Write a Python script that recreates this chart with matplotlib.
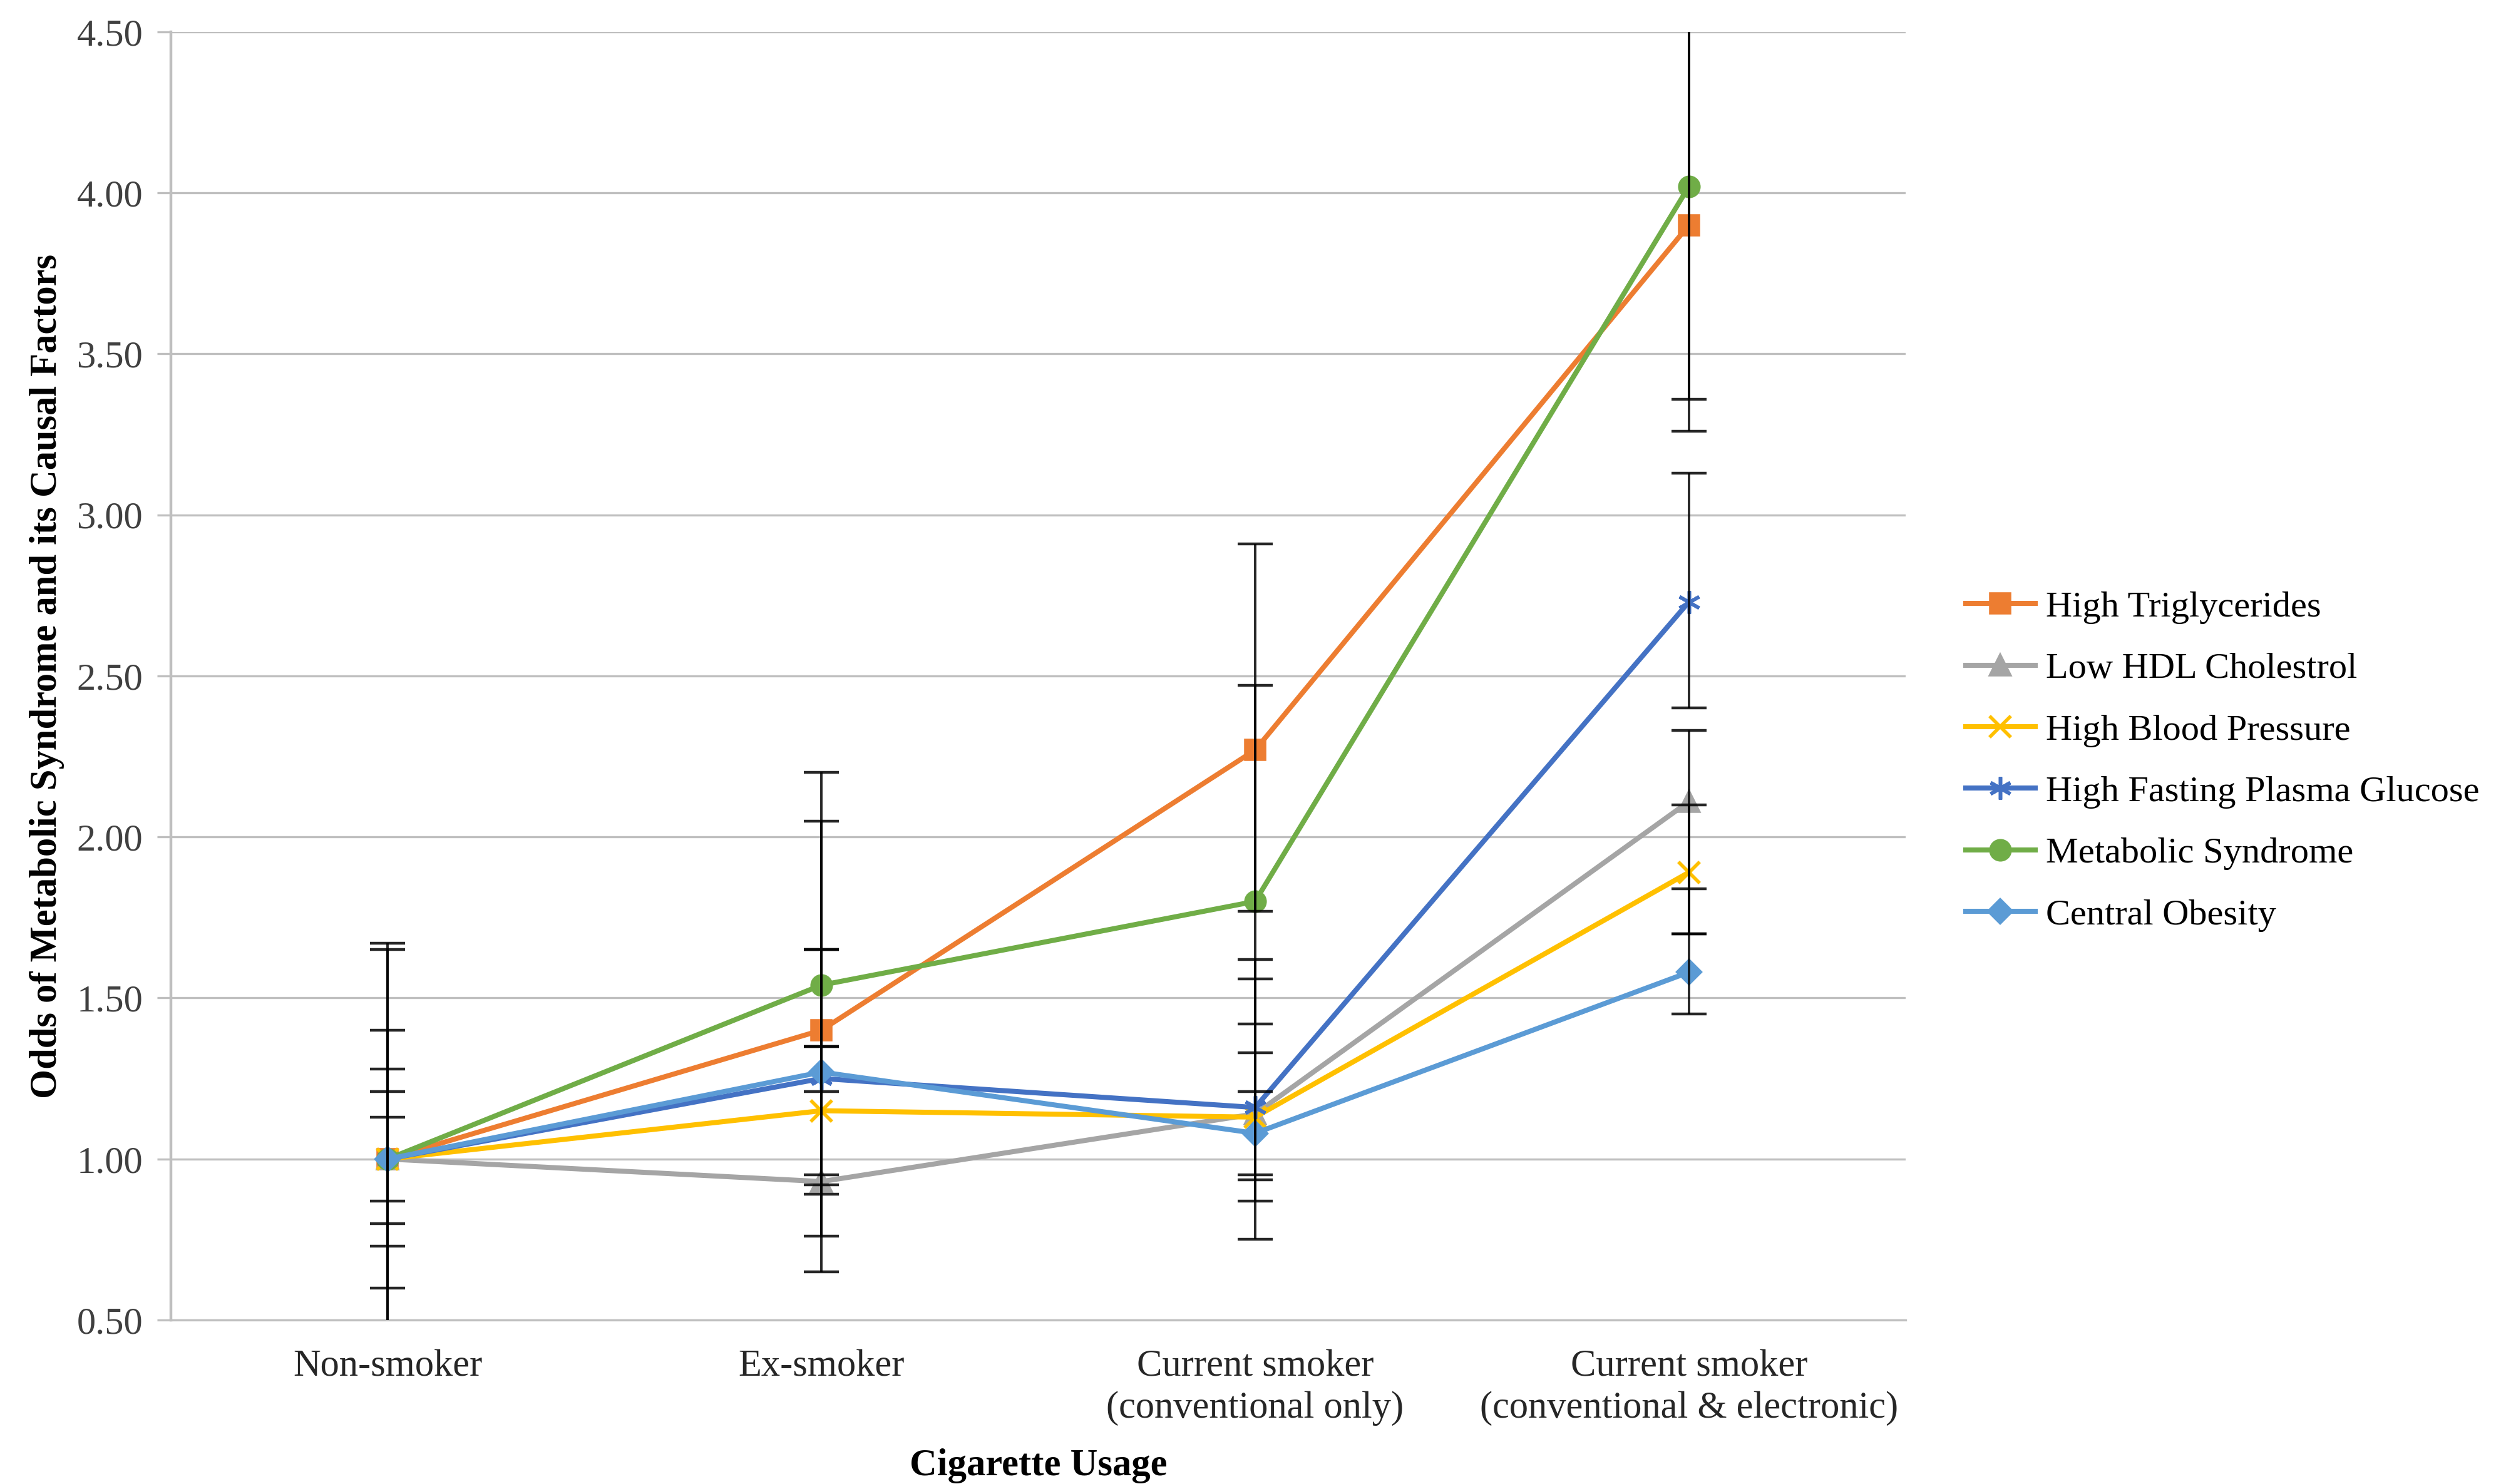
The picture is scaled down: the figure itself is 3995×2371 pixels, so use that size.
import matplotlib
matplotlib.use("Agg")
import matplotlib.pyplot as plt

# ── data ──────────────────────────────────────────────────────────────────────
categories = ["Non-smoker", "Ex-smoker",
              "Current smoker\n(conventional only)",
              "Current smoker\n(conventional & electronic)"]

series_names = ["High Triglycerides", "Low HDL Cholestrol", "High Blood Pressure",
                "High Fasting Plasma Glucose", "Metabolic Syndrome", "Central Obesity"]

trig = [1.00, 1.40, 2.27, 3.90]
hdl  = [1.00, 0.93, 1.14, 2.11]
bp   = [1.00, 1.15, 1.13, 1.89]
hfpg = [1.00, 1.25, 1.16, 2.73]
mets = [1.00, 1.54, 1.80, 4.02]
co   = [1.00, 1.27, 1.08, 1.58]

# confidence intervals
trig_lo = [0.40, 0.89, 1.77, 3.26]; trig_hi = [1.67, 2.20, 2.91, 4.65]
hdl_lo  = [0.60, 0.65, 0.75, 1.70]; hdl_hi  = [1.40, 1.35, 1.62, 2.33]
bp_lo   = [0.87, 0.76, 0.935, 1.70]; bp_hi  = [1.13, 1.35, 1.42, 2.10]
hfpg_lo = [0.73, 0.92, 0.87, 2.40]; hfpg_hi = [1.28, 1.65, 1.56, 3.13]
mets_lo = [0.45, 1.21, 1.33, 3.36]; mets_hi = [1.65, 2.05, 2.47, 4.80]
co_lo   = [0.80, 0.95, 0.95, 1.45]; co_hi   = [1.21, 1.65, 1.21, 1.84]

y_ticks = [0.5, 1.0, 1.5, 2.0, 2.5, 3.0, 3.5, 4.0, 4.5]

# ── styling ──────────────────────────────────────────────────────────────────
plt.rcParams['font.family'] = ['Liberation Serif', 'DejaVu Serif']
FS = 21.8
colors  = ['#ED7D31', '#A5A5A5', '#FFC000', '#4472C4', '#70AD47', '#5B9BD5']
markers = ['s', '^', 'x', (6, 2, 0), 'o', 'D']
msizes  = [11, 11, 12, 13, 11, 9]

values = [trig, hdl, bp, hfpg, mets, co]
lows   = [trig_lo, hdl_lo, bp_lo, hfpg_lo, mets_lo, co_lo]
highs  = [trig_hi, hdl_hi, bp_hi, hfpg_hi, mets_hi, co_hi]

fig = plt.figure(figsize=(19.975, 11.855), dpi=200)
ax = fig.add_axes([0.0683, 0.1105, 0.762 - 0.0683, 0.9785 - 0.1105])

x = [i + 0.5 for i in range(len(categories))]
handles = []
for name, vals, c, m, ms in zip(series_names, values, colors, markers, msizes):
    h, = ax.plot(x, vals, color=c, lw=2.9, marker=m, ms=ms, mew=2.0,
                 mec=c, mfc=c, label=name, zorder=3)
    handles.append(h)

for vals, lo, hi in zip(values, lows, highs):
    err = [[v - l for v, l in zip(vals, lo)], [h - v for v, h in zip(vals, hi)]]
    ax.errorbar(x, vals, yerr=err, fmt='none', ecolor='black', elinewidth=1.4,
                capsize=10, capthick=1.6, zorder=4, alpha=0.85)

ax.set_xlim(0, 4)
ax.set_ylim(0.5, 4.5)
ax.set_yticks(y_ticks)
ax.set_yticklabels([f"{t:.2f}" for t in y_ticks], fontsize=FS, color='#404040')
ax.set_xticks(x)
ax.set_xticklabels(categories, fontsize=FS, color='#262626', linespacing=1.25)
ax.tick_params(axis='x', length=0, pad=17)
ax.tick_params(axis='y', length=8, width=1.2, color='#BFBFBF', pad=8)

ax.grid(axis='y', color='#BFBFBF', lw=1.2, zorder=0)
ax.set_axisbelow(True)
for s in ['top', 'right']:
    ax.spines[s].set_visible(False)
ax.spines['left'].set_color('#BFBFBF')
ax.spines['left'].set_linewidth(1.6)
ax.spines['bottom'].set_color('#BFBFBF')
ax.spines['bottom'].set_linewidth(1.2)

ax.set_ylabel("Odds of Metabolic Syndrome and its Causal Factors",
              fontsize=FS, fontweight='bold', labelpad=7)
ax.set_xlabel("Cigarette Usage", fontsize=FS, fontweight='bold', labelpad=13)

fig.legend(handles=handles, loc='center left', bbox_to_anchor=(0.786, 0.487),
           frameon=False, fontsize=21.0, handlelength=1.9, handletextpad=0.3,
           labelspacing=0.78, borderpad=0, borderaxespad=0, numpoints=1)

fig.savefig("out.png", dpi=200)
